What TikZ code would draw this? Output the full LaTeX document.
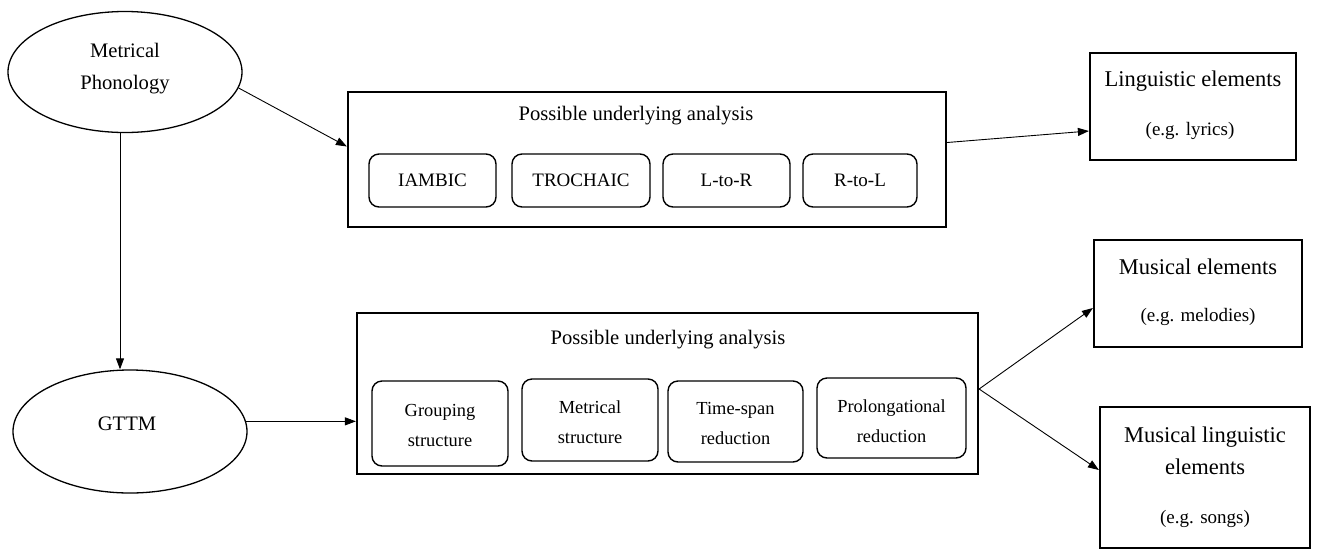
\documentclass[tikz,border=0pt]{standalone}
\usepackage{fontspec}
\setmainfont{Liberation Serif}
\usetikzlibrary{shapes.geometric,arrows.meta}
\begin{document}
\begin{tikzpicture}[x=1pt,y=-1pt,
  outerbox/.style={draw,line width=2.2pt,inner sep=0pt},
  innerbox/.style={draw,line width=1.4pt,rounded corners=10pt,inner sep=0pt},
  oval/.style={draw,ellipse,line width=1.3pt,inner sep=0pt},
  lbl/.style={inner sep=0pt,align=center},
  big/.style={font=\fontsize{22.5}{26}\selectfont},
  mid/.style={font=\fontsize{19}{23}\selectfont},
  head/.style={font=\fontsize{20.6}{24}\selectfont},
  small/.style={font=\fontsize{18.4}{30}\selectfont},
  note/.style={font=\fontsize{19}{23}\selectfont},
  arr/.style={line width=0.9pt,-{Triangle[length=11pt,width=8pt]}}]
\useasboundingbox (0,0) rectangle (1317,550);

% theory ovals
\node[oval,minimum width=234pt,minimum height=121pt] (mp) at (125,72) {};
\node[lbl,font=\fontsize{20.6}{32}\selectfont] (mpt) at (125,69) {Metrical\\Phonology};
\node[oval,minimum width=234pt,minimum height=123pt] (gttm) at (130,431.5) {};
\node[lbl,head] (gttmt) at (127,424) {GTTM};

% upper analysis box
\node[outerbox,minimum width=598pt,minimum height=135pt] (box1) at (647,159.5) {};
\node[lbl,head] (t1) at (636,116) {Possible underlying analysis};
\node[innerbox,minimum width=127pt,minimum height=53pt] (iamb) at (432.5,180.5) {};
\node[lbl,mid] at (iamb) {IAMBIC};
\node[innerbox,minimum width=138pt,minimum height=53pt] (troc) at (581,180.5) {};
\node[lbl,mid] at (troc) {TROCHAIC};
\node[innerbox,minimum width=127pt,minimum height=53pt] (ltr) at (726.5,180.5) {};
\node[lbl,mid] at (ltr) {L-to-R};
\node[innerbox,minimum width=114pt,minimum height=53pt] (rtl) at (860,180.5) {};
\node[lbl,mid] at (rtl) {R-to-L};

% lower analysis box
\node[outerbox,minimum width=621pt,minimum height=161pt] (box2) at (667.5,393.5) {};
\node[lbl,head] (t2) at (668,340) {Possible underlying analysis};
\node[innerbox,minimum width=136pt,minimum height=85pt] (grp) at (440,423.5) {};
\node[lbl,small] at ([yshift=-2pt]grp) {Grouping\\structure};
\node[innerbox,minimum width=136pt,minimum height=82pt] (met) at (590,420) {};
\node[lbl,small] at ([yshift=-2pt]met) {Metrical\\structure};
\node[innerbox,minimum width=135pt,minimum height=81pt] (tsr) at (735.5,421.5) {};
\node[lbl,small] at ([yshift=-2pt]tsr) {Time-span\\reduction};
\node[innerbox,minimum width=149pt,minimum height=80pt] (pro) at (891.5,418) {};
\node[lbl,small] at ([yshift=-3pt]pro) {Prolongational\\reduction};

% outcome boxes
\node[outerbox,minimum width=206pt,minimum height=107pt] (ling) at (1193,106.5) {};
\node[lbl,big] at (1193,81) {Linguistic elements};
\node[lbl,note] at (1190,131) {(e.g. lyrics)};
\node[outerbox,minimum width=208pt,minimum height=107pt] (mus) at (1198,293.5) {};
\node[lbl,big] at (1198,267) {Musical elements};
\node[lbl,note] at (1198,317) {(e.g. melodies)};
\node[outerbox,minimum width=210pt,minimum height=141pt] (mling) at (1205,477.5) {};
\node[lbl,font=\fontsize{22.5}{32}\selectfont] at (1205,451) {Musical linguistic\\elements};
\node[lbl,note] at (1205,519) {(e.g. songs)};

% connectors
\draw[arr] (mp.-8) -- ([yshift=13pt]box1.west);
\draw[arr] ([xshift=-5pt]mp.south) -- ([xshift=-5pt]mp.south |- gttm.north);
\draw[arr] (gttm.5) -- (gttm.5 -| box2.west);
\draw[arr] ([yshift=17pt]box1.east) -- ([yshift=-24.5pt]ling.west);
\coordinate (fork) at ([yshift=4.5pt]box2.east);
\draw[arr] (fork) -- ([yshift=-14.5pt]mus.west);
\draw[arr] (fork) -- ([yshift=7.5pt]mling.west);
\end{tikzpicture}
\end{document}
